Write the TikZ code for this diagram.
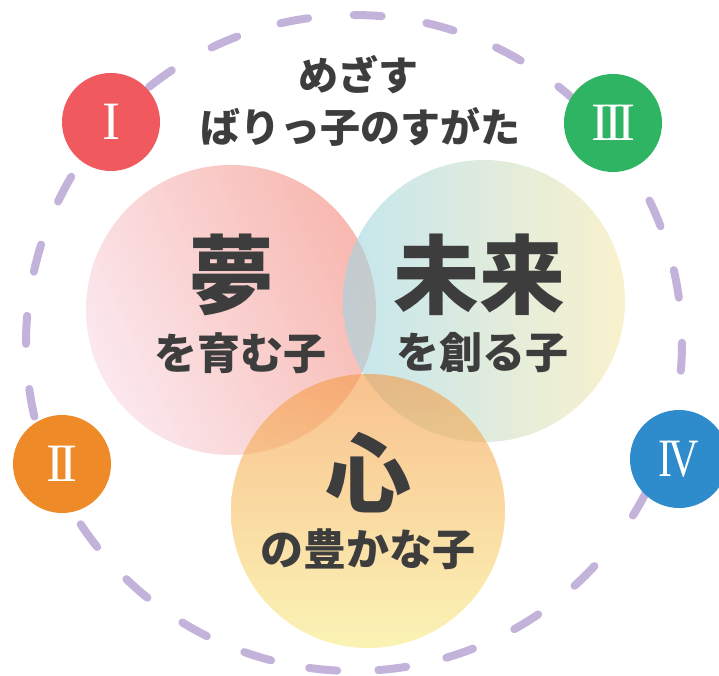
\documentclass[tikz,border=0pt]{standalone}
\usepackage{fontspec}
\newfontfamily\jp{Noto Sans CJK JP}
\newfontfamily\rom{Liberation Serif}
\definecolor{dashc}{HTML}{C3B3DA}
\definecolor{txt}{HTML}{3D3D3D}
\definecolor{cI}{HTML}{F05A5E}
\definecolor{cII}{HTML}{EE8A28}
\definecolor{cIII}{HTML}{2FB464}
\definecolor{cIV}{HTML}{2E8BCC}
\definecolor{pinkA}{HTML}{F8D9E3}
\definecolor{pinkB}{HTML}{F3897B}
\definecolor{futA}{HTML}{9DD5E3}
\definecolor{futB}{HTML}{F5E8AC}
\definecolor{heartA}{HTML}{F59944}
\definecolor{heartB}{HTML}{F7EB84}
\tikzset{
  bigc/.style={circle, inner sep=0pt, fill opacity=0.6},
  numc/.style={circle, inner sep=0pt, minimum size=98pt, text=white,
    font=\rom\fontsize{54}{54}\selectfont},
  jtext/.style={text=txt, inner sep=0pt, font=\jp\bfseries\fontsize{#1}{#1}\selectfont},
  dashseg/.style={draw=dashc, line width=8pt, line cap=round}
}
\begin{document}
\begin{tikzpicture}[x=1pt,y=1pt]
\useasboundingbox (0,0) rectangle (719,675);
\coordinate (O) at (354,332);
\foreach \a [evaluate=\a as \s using \a-2.45, evaluate=\a as \e using \a+2.45] in
  {-2.4,10.4,23.3,36.2,49.0,61.9,74.8,87.6,100.5,113.3,126.2,139.1,152.0,165.0,177.7,
   190.5,203.3,216.0,228.5,240.9,252.9,264.6,276.7,288.8,301.7,314.7,330.7,344.2}
  \draw[dashseg] (O) ++(\s:328) arc[start angle=\s, end angle=\e, radius=328];
\node[bigc, minimum size=290pt, left color=pinkA, right color=pinkB, shading angle=115] (pink) at (231,365) {};
\node[bigc, minimum size=282pt, left color=futA, right color=futB] (future) at (484,374) {};
\node[bigc, minimum size=274pt, top color=heartA, bottom color=heartB] (heart) at (368,164) {};
\node[numc, fill=cI] (n1) at (111,553) {I};
\node[numc, fill=cII] (n2) at (62,211) {I\kern-4.5pt I};
\node[numc, fill=cIII] (n3) at (613,552) {I\kern-5pt I\kern-5pt I};
\node[numc, fill=cIV] (n4) at (679,216) {\scalebox{0.78}[1]{I\kern-5pt V}};
\node[jtext=40] (t1) at (358,600) {めざす};
\node[jtext=40] (t2) at (360,548) {ばりっ子のすがた};
\node[jtext=86] (yume) at (231,400) {夢};
\node[jtext=43] (yume2) at (240,322) {を育む子};
\node[jtext=86] (mirai) at (479,400) {未来};
\node[jtext=43] (mirai2) at (482,322) {を創る子};
\node[jtext=86] (kokoro) at (368,202) {心};
\node[jtext=43] (kokoro2) at (368,126) {の豊かな子};
\end{tikzpicture}
\end{document}
